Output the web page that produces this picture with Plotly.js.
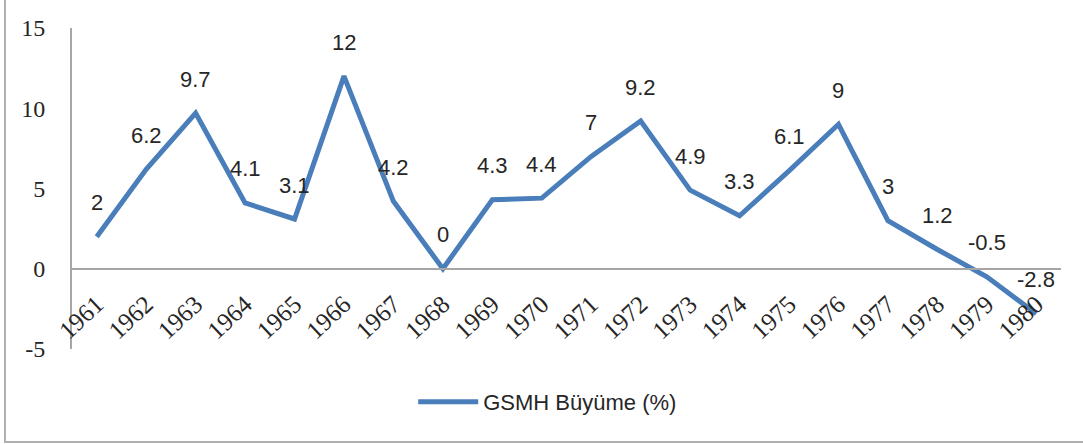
<!DOCTYPE html>
<html>
<head>
<meta charset="utf-8">
<script src="https://cdn.plot.ly/plotly-3.0.1.min.js"></script>
<style>
  html, body { margin: 0; padding: 0; background: #fff; }
  #wrap { position: relative; width: 1083px; height: 444px; overflow: hidden; }
  #chart { width: 1083px; height: 444px; }
  #frame { position: absolute; left: 4px; top: -2px; width: 1090px; height: 443px;
           border-left: 2px solid #b0b0b0; border-bottom: 2px solid #b0b0b0; pointer-events: none; }
</style>
</head>
<body>
<div id="wrap">
  <div id="chart"></div>
  <div id="frame"></div>
</div>
<script>
const years = ["1961","1962","1963","1964","1965","1966","1967","1968","1969","1970",
               "1971","1972","1973","1974","1975","1976","1977","1978","1979","1980"];
const growth = [2, 6.2, 9.7, 4.1, 3.1, 12, 4.2, 0, 4.3, 4.4,
                7, 9.2, 4.9, 3.3, 6.1, 9, 3, 1.2, -0.5, -2.8];
const yTicks = [-5, 0, 5, 10, 15];
const seriesName = "GSMH Büyüme (%)";

const lineColor = "#4a7ebb";
const axisColor = "#a6a6a6";

const trace = {
  x: years,
  y: growth,
  type: "scatter",
  mode: "lines",
  name: seriesName,
  line: { color: lineColor, width: 5 },
  hoverinfo: "x+y"
};

// category axis: annotation x is the category's serial index
const annotations = years.map((yr, i) => ({
  x: i, y: growth[i], xref: "x", yref: "y",
  text: String(growth[i]),
  showarrow: false, yshift: 34,
  font: { family: "Liberation Sans, Arial, sans-serif", size: 22, color: "#262626" }
}));

const layout = {
  width: 1083, height: 444,
  margin: { l: 72, r: 22, t: 28, b: 95 },
  paper_bgcolor: "#ffffff", plot_bgcolor: "#ffffff",
  showlegend: true,
  legend: {
    orientation: "h", x: 0.345, xanchor: "left", y: -0.165, yanchor: "middle",
    itemwidth: 60,
    font: { family: "Liberation Sans, Arial, sans-serif", size: 22, color: "#262626" },
    bgcolor: "rgba(0,0,0,0)"
  },
  xaxis: {
    type: "category",
    range: [-0.5, 19.5],
    anchor: "free", position: 0.25,
    showline: true, linecolor: axisColor, linewidth: 2,
    showgrid: false, zeroline: false, ticks: "",
    tickangle: -43,
    ticklabelstandoff: 10,
    tickfont: { family: "Liberation Serif, Times New Roman, serif", size: 25, color: "#262626" }
  },
  yaxis: {
    range: [-5, 15],
    tickvals: yTicks,
    ticktext: yTicks.map(String),
    showline: true, linecolor: axisColor, linewidth: 2,
    showgrid: false, zeroline: false, ticks: "",
    ticklabelstandoff: 20,
    tickfont: { family: "Liberation Serif, Times New Roman, serif", size: 24, color: "#262626" }
  },
  annotations: annotations
};

Plotly.newPlot("chart", [trace], layout, { displayModeBar: false, staticPlot: true });
</script>
</body>
</html>
